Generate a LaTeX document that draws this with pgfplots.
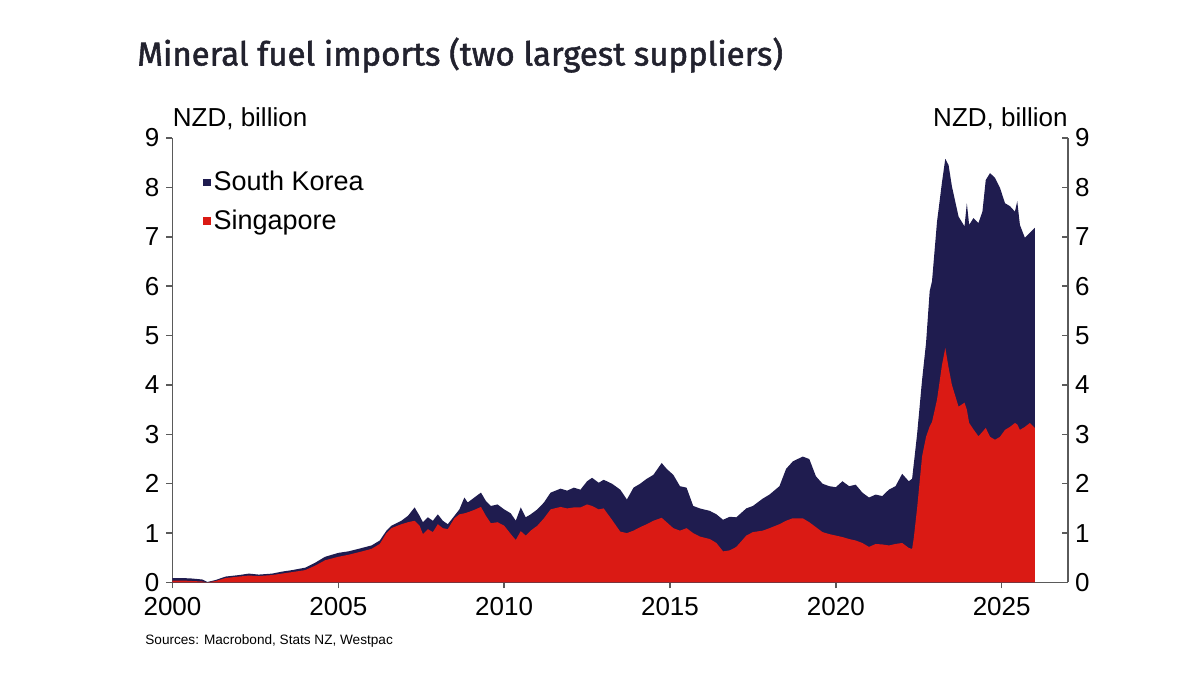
\documentclass[border=0pt]{standalone}
\usepackage{fontspec}
\setmainfont{Liberation Sans}
\newfontfamily\titlefont{Fira Sans}[FakeBold=1.6]
\usepackage{pgfplots}
\pgfplotsset{compat=1.18}
\usepackage{pgfplotstable}

\definecolor{wnavy}{HTML}{1F1C4F}
\definecolor{wred}{HTML}{DA1A14}
\definecolor{axisgray}{HTML}{5A5A5A}
\definecolor{titlecol}{HTML}{22222E}

% Mineral fuel imports, NZD billion (annual running total)
% total = South Korea + Singapore, sg = Singapore
\pgfplotstableread{
t total sg
2000.00 0.09 0.04
2000.30 0.09 0.04
2000.60 0.08 0.03
2000.90 0.06 0.02
2001.05 0.01 0.00
2001.30 0.05 0.03
2001.60 0.12 0.09
2002.00 0.15 0.12
2002.30 0.18 0.14
2002.60 0.16 0.13
2003.00 0.18 0.15
2003.30 0.22 0.18
2003.60 0.25 0.21
2004.00 0.30 0.25
2004.30 0.40 0.34
2004.60 0.52 0.45
2005.00 0.60 0.52
2005.30 0.63 0.56
2005.60 0.68 0.61
2006.00 0.75 0.68
2006.25 0.85 0.78
2006.45 1.05 1.00
2006.60 1.15 1.10
2006.90 1.25 1.18
2007.10 1.35 1.22
2007.30 1.52 1.25
2007.45 1.35 1.15
2007.55 1.22 0.98
2007.70 1.32 1.08
2007.85 1.25 1.02
2008.00 1.38 1.18
2008.15 1.25 1.10
2008.30 1.18 1.08
2008.50 1.35 1.30
2008.65 1.48 1.38
2008.80 1.72 1.40
2008.90 1.62 1.42
2009.10 1.72 1.47
2009.30 1.82 1.53
2009.45 1.65 1.35
2009.60 1.55 1.20
2009.80 1.58 1.22
2010.00 1.48 1.15
2010.20 1.40 0.98
2010.35 1.25 0.86
2010.50 1.52 1.04
2010.65 1.32 0.95
2010.80 1.38 1.05
2011.00 1.48 1.15
2011.20 1.62 1.30
2011.40 1.82 1.48
2011.70 1.90 1.53
2011.90 1.86 1.50
2012.10 1.92 1.52
2012.30 1.88 1.52
2012.50 2.05 1.58
2012.65 2.12 1.55
2012.85 2.02 1.48
2013.00 2.08 1.50
2013.25 2.00 1.27
2013.50 1.88 1.03
2013.70 1.68 1.00
2013.90 1.92 1.05
2014.10 2.00 1.12
2014.30 2.10 1.18
2014.50 2.18 1.25
2014.75 2.42 1.31
2014.90 2.30 1.22
2015.10 2.18 1.10
2015.30 1.95 1.05
2015.50 1.92 1.10
2015.70 1.55 1.00
2015.90 1.50 0.93
2016.20 1.45 0.88
2016.40 1.38 0.80
2016.60 1.27 0.63
2016.80 1.33 0.65
2017.00 1.32 0.72
2017.30 1.50 0.95
2017.50 1.55 1.02
2017.80 1.70 1.05
2018.00 1.78 1.10
2018.30 1.95 1.18
2018.50 2.30 1.25
2018.70 2.45 1.30
2019.00 2.55 1.30
2019.20 2.50 1.22
2019.40 2.15 1.12
2019.60 2.00 1.02
2019.80 1.95 0.98
2020.00 1.93 0.95
2020.20 2.05 0.92
2020.40 1.95 0.88
2020.60 1.98 0.85
2020.80 1.82 0.80
2021.00 1.72 0.72
2021.20 1.78 0.78
2021.40 1.75 0.77
2021.60 1.88 0.75
2021.80 1.95 0.78
2022.00 2.20 0.80
2022.20 2.05 0.70
2022.30 2.10 0.68
2022.35 2.40 0.90
2022.45 3.00 1.50
2022.60 4.10 2.55
2022.72 4.85 2.95
2022.83 5.90 3.16
2022.90 6.10 3.25
2023.05 7.30 3.70
2023.20 8.10 4.40
2023.30 8.58 4.75
2023.40 8.45 4.35
2023.50 8.02 4.00
2023.70 7.41 3.56
2023.88 7.21 3.64
2023.95 7.68 3.50
2024.02 7.24 3.23
2024.15 7.38 3.10
2024.30 7.28 2.96
2024.42 7.51 3.05
2024.52 8.15 3.13
2024.65 8.29 2.95
2024.80 8.19 2.89
2024.95 7.99 2.95
2025.10 7.68 3.09
2025.25 7.62 3.15
2025.40 7.51 3.23
2025.47 7.72 3.20
2025.55 7.24 3.09
2025.70 6.98 3.15
2025.85 7.08 3.23
2026.00 7.18 3.13
}\fueldata

\pgfplotsset{
  fuelaxis/.style={
    scale only axis, width=447.75pt, height=222.25pt,
    xmin=2000, xmax=2027, ymin=0, ymax=9,
    ytick={0,1,...,9},
    axis line style={-, axisgray, line width=0.75pt},
    tick style={axisgray, line width=0.75pt},
    major tick length=3pt,
    ticklabel style={font=\fontsize{13}{15}\selectfont, text=black},
    /pgf/number format/assume math mode=true,
    /pgf/number format/1000 sep={},
  }
}

\begin{document}
\begin{tikzpicture}
\path[use as bounding box] (-86.25pt,-47.75pt) rectangle (513.75pt,291.25pt);

\node[anchor=base west, inner sep=0pt, text=titlecol,
      font=\titlefont\fontsize{16.5}{19.5}\selectfont]
  at (-17.75pt,258.5pt) {Mineral fuel imports (two largest suppliers)};

\begin{axis}[
  fuelaxis,
  axis x line*=bottom, axis y line*=left,
  xtick={2000,2005,...,2025},
  tick align=outside,
  xticklabel style={yshift=-1pt},
  legend style={at={(axis description cs:0.027,0.942)}, anchor=north west,
    draw=none, fill=none, font=\fontsize{13.5}{15.5}\selectfont,
    row sep=5pt, nodes={inner sep=1.5pt}},
  legend cell align=left,
  legend image code/.code={\fill[#1] (0pt,-1.9pt) rectangle (3.8pt,1.9pt);},
]
\addplot[fill=wnavy, draw=none] table[x=t, y=total] {\fueldata} \closedcycle;
\addlegendentry{South Korea}
\addplot[fill=wred, draw=none] table[x=t, y=sg] {\fueldata} \closedcycle;
\addlegendentry{Singapore}
\end{axis}

\begin{axis}[
  fuelaxis,
  axis x line=none, axis y line*=right,
  tick align=inside,
]
\end{axis}

\node[anchor=base west, inner sep=0pt, font=\fontsize{13}{15}\selectfont]
  at (0pt,227.75pt) {NZD, billion};
\node[anchor=base east, inner sep=0pt, font=\fontsize{13}{15}\selectfont]
  at (447.75pt,227.75pt) {NZD, billion};
\node[anchor=base west, inner sep=0pt, font=\fontsize{6.8}{8}\selectfont]
  at (-13.75pt,-31.25pt) {Sources: Macrobond, Stats NZ, Westpac};
\end{tikzpicture}
\end{document}
